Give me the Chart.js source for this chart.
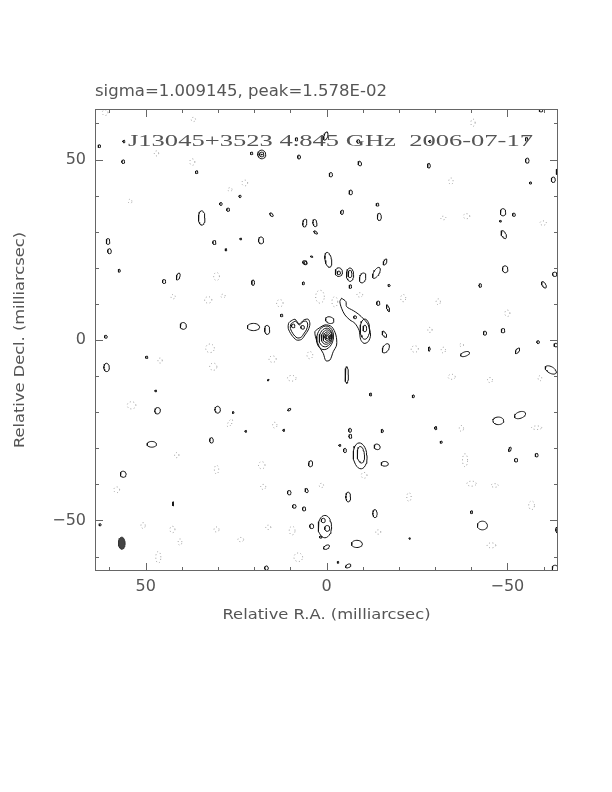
<!DOCTYPE html>
<html><head><meta charset="utf-8">
<script src="https://cdn.jsdelivr.net/npm/chart.js@4.4.1/dist/chart.umd.min.js"></script>
<style>html,body{margin:0;padding:0;background:#fff;}#wrap{position:relative;width:612px;height:792px;}</style>
</head><body><div id="wrap"><canvas id="c" width="612" height="792"></canvas></div>
<script>
// ---- texts ----
const headerText = "sigma=1.009145, peak=1.578E-02";
const mapTitle = "J13045+3523 4.845 GHz  2006-07-17";
const xAxisTitle = "Relative R.A. (milliarcsec)";
const yAxisTitle = "Relative Decl. (milliarcsec)";
// ---- axes (milliarcsec) ----
const axisRange = [-64, 64];
const tickValues = [60, 50, 40, 30, 20, 10, 0, -10, -20, -30, -40, -50, -60];
const majorTickValues = [50, 0, -50];
const majorTickLabels = ["50", "0", "\u221250"];
// ---- positive contours: [RA, Dec, semi-axis RA, semi-axis Dec, tilt deg] ----
const positiveBlobs = [
 [62.8,53.7,0.35,0.4,0],[56.2,49.4,0.4,0.5,0],[56.0,55.0,0.3,0.35,0],
 [17.9,51.4,1.1,1.2,0],[17.9,51.4,0.6,0.65,0],[17.9,51.4,0.15,0.15,0],[20.7,51.7,0.35,0.35,0],
 [8.3,55.6,0.35,0.45,0],[7.6,50.7,0.4,0.55,0],[0.2,56.5,0.5,1.2,20],[-8.8,55,0.4,0.5,0],
 [-28.6,55,0.3,0.35,0],[-55.3,55.6,0.35,0.5,0],[-59.3,63.6,0.5,0.4,0],[35.9,46.5,0.35,0.4,0],
 [-9.2,48.9,0.45,0.65,-20],[-1.2,45.8,0.45,0.6,0],[-28.3,48.3,0.4,0.65,0],[-55.5,49.7,0.5,0.7,0],
 [-62.7,44.4,0.55,0.75,0],[-63.8,46.6,0.3,0.8,0],[-56.4,43.5,0.3,0.3,0],[23.9,39.8,0.3,0.35,0],
 [29.2,37.7,0.35,0.4,0],[27.2,36.1,0.4,0.45,0],[34.5,33.8,0.9,2.0,0],[15.2,34.7,0.35,0.6,-40],
 [6.0,32.4,0.55,1.1,10],[3.2,32.4,0.55,1.0,-10],[3.0,29.8,0.3,0.6,-50],[-6.7,40.9,0.45,0.65,0],
 [-14.1,37.5,0.4,0.4,0],[-4.3,35.4,0.4,0.6,10],[-14.6,34.1,0.55,1.0,0],[-48.8,35.4,0.75,1.0,0],
 [-51.8,34.7,0.4,0.45,0],[-48.1,32.9,0.25,0.25,0],[-49.0,29.2,0.6,1.2,-25],
 [60.4,27.3,0.5,0.8,0],[60.0,24.6,0.5,0.7,0],[31.0,27.0,0.45,0.55,0],[27.8,25.0,0.25,0.3,0],
 [23.7,28.0,0.25,0.25,0],[18.1,27.6,0.7,0.95,0],[5.8,21.3,0.45,0.45,0],[57.3,19.2,0.3,0.4,0],
 [44.9,16.2,0.45,0.55,0],[41.0,17.6,0.45,1.0,20],[20.3,15.9,0.4,0.75,0],[6.4,15.7,0.3,0.4,0],
 [-49.4,19.6,0.75,0.95,0],[-63.1,18.2,0.6,0.6,0],[-42.5,15.1,0.35,0.5,0],[-60.1,15.3,0.5,1.0,-30],
 [-0.5,22.2,0.9,2.1,-10],[-3.4,18.8,1.0,1.2,0],[-3.4,18.6,0.45,0.5,0],
 [-6.5,18.1,1.0,1.85,0],[-6.5,18.3,0.55,1.0,0],[-6.6,14.8,0.35,0.5,0],
 [-10.0,17.2,0.85,1.4,15],[-13.8,18.6,0.75,1.7,30],[-16.2,21.6,0.4,0.9,25],[-17.3,15.1,0.3,0.3,0],
 [6.0,21.5,0.6,0.5,0],[4.1,23.1,0.4,0.15,20],[12.4,6.8,0.35,0.35,0],[39.6,3.9,0.85,0.95,0],
 [20.2,3.6,1.7,1.0,0],[16.4,2.8,0.7,1.25,0],[61.0,0.9,0.4,0.4,0],[60.8,-7.6,0.75,1.15,0],
 [49.7,-4.8,0.35,0.3,0],[16.1,-11.1,0.3,0.15,-45],[-14.3,10.2,0.45,0.6,0],[-17.0,8.8,0.3,1.0,-20],
 [-16.0,1.6,0.45,1.0,-30],[-16.4,-2.3,0.8,1.4,30],[-28.4,-2.5,0.25,0.6,0],[-43.8,1.9,0.45,0.55,0],
 [-48.8,2.6,0.5,0.6,0],[-52.8,-3.0,0.4,0.9,35],[-58.5,-0.6,0.35,0.4,0],[-63.4,-1.4,0.5,0.5,0],
 [-5.6,-9.7,0.45,2.3,0],[-12.2,-15.1,0.3,0.4,0],[-24.0,-15.6,0.3,0.4,0],[-30.2,-24.4,0.3,0.45,0],
 [-31.7,-28.3,0.3,0.3,0],[-15.4,-25.2,0.3,0.45,0],[47.2,-14.1,0.25,0.25,0],[46.7,-19.6,0.75,0.9,20],
 [30.1,-19.3,0.75,0.95,0],[10.3,-19.3,0.5,0.25,-40],[25.8,-20.1,0.25,0.25,0],[48.3,-28.9,1.3,0.8,0],
 [31.8,-27.8,0.5,0.75,0],[22.3,-25.3,0.25,0.25,0],[11.8,-25.0,0.25,0.3,0],[4.4,-34.3,0.55,0.85,10],
 [56.2,-37.2,0.8,0.85,0],[10.3,-42.3,0.5,0.6,0],[5.5,-41.7,0.4,0.6,-20],[8.9,-46.1,0.5,0.5,0],
 [6.2,-46.8,0.45,0.55,0],[4.1,-51.6,0.55,0.65,0],[62.6,-51.2,0.3,0.3,0],[42.4,-45.4,0.1,0.6,0],
 [16.6,-63.2,0.5,0.6,0],[1.6,-54.6,0.35,0.3,0],[0,-57.4,0.9,0.5,-30],
 [-6.5,-25.0,0.4,0.55,0],[-6.6,-26.7,0.4,0.55,0],[-3.7,-29.2,0.3,0.25,0],[-5.1,-30.6,0.4,0.6,0],
 [-14.0,-29.6,0.85,0.75,30],[-16.1,-34.3,1.0,0.65,0],[-6.0,-43.5,0.65,1.35,0],[-13.4,-48.1,0.6,1.1,0],
 [-40.1,-47.7,0.3,0.4,0],[-43.1,-51.4,1.4,1.2,0],[-8.4,-56.5,1.5,1.0,0],[-6.0,-62.6,0.8,0.45,-30],
 [-3.2,-61.6,0.25,0.25,0],[-23.0,-55.0,0.2,0.2,0],[-63.8,-52.6,0.4,0.8,0],[-63.2,-63.2,0.8,0.8,0],
 [-50.7,-30.3,0.3,0.65,20],[-52.4,-33.3,0.45,0.5,0],[-58.1,-31.9,0.4,0.5,0],
 [-47.5,-22.4,1.5,1.05,0],[-53.5,-20.8,1.6,0.9,-20],[-38.3,-3.9,1.3,0.6,-20],[-62.0,-8.3,1.7,0.9,30],
 // southern knot
 [-9.3,-32.1,1.9,3.6,-5],[-9.5,-31.8,1.0,2.3,-5],
 // southern double
 [0.45,-51.7,1.85,3.1,0],[0.9,-50.0,0.55,0.6,0],[-0.2,-52.2,0.7,0.8,0],
 // core levels
 [0.4,0.6,2.3,3.3,10],[0.2,0.7,1.8,2.6,10],[0.0,0.8,1.4,2.0,10],[-0.1,0.8,1.0,1.45,10],
 [-0.2,0.8,0.65,0.9,0],[-0.2,0.8,0.35,0.45,0],
 [-0.9,5.5,1.2,0.9,20],
 // heart lobes
 [9.2,3.9,0.5,0.5,0],[6.6,3.5,0.5,0.5,0],
 // jet knots
 [-10.6,3.0,1.3,2.8,0],[-10.6,3.2,0.5,0.9,0],[-7.9,6.3,0.4,0.4,0]
];
// ---- negative contours (dotted) ----
const negativeBlobs = [
 [47,51.7,0.6,0.7,0],[37.1,49.3,0.7,0.9,0],[22.6,43.5,0.8,0.8,0],[26.7,41.7,0.6,0.5,0],
 [54.3,38.4,0.5,0.6,0],[30.4,17.6,0.8,1.1,0],[32.7,11.1,1.0,0.9,0],[28.6,12.2,0.6,0.5,0],
 [42.4,12,0.6,0.6,0],[12.9,10.2,0.9,1.0,0],[1.8,12,1.2,1.8,0],[-2.3,10.6,0.8,1.4,0],
 [-9.2,12.5,0.8,0.6,0],[32.2,-2.3,1.2,1.2,0],[31.3,-7.4,1.0,1.0,0],[14.9,-5.3,1.0,0.9,0],
 [4.6,-4.2,0.8,1.0,0],[9.6,-10.6,1.2,0.8,0],[46,-5.7,0.6,0.7,0],[53.9,-18.1,1.2,1.0,0],
 [26.7,-23,0.5,1.2,30],[14.3,-23.6,0.6,0.8,0],[41.4,-31.9,0.6,0.7,0],[30.4,-35.9,0.6,1.2,0],
 [17.9,-34.7,0.9,1.0,0],[17.5,-40.7,0.7,0.7,0],[58,-41.5,0.8,0.8,0],[50.7,-51.4,0.6,0.8,0],
 [42.6,-52.5,0.7,0.9,0],[40.5,-56,0.5,0.9,0],[30.4,-52.5,0.7,0.7,0],[23.7,-55.3,0.8,0.6,0],
 [16.1,-51.9,0.7,0.6,0],[9.5,-52.8,0.8,1.2,0],[46.5,-60.2,0.7,1.6,0],[7.8,-60.2,1.2,1.2,0],
 [1.4,-40.3,0.6,0.6,0],[61.2,63,0.8,0.8,0],[36.8,61.1,0.6,0.6,0],[-40.5,60.2,0.6,1.0,0],
 [-34.4,44,0.6,0.9,0],[-32.3,33.8,0.7,0.5,0],[-38.7,34.3,0.9,0.7,0],[-59.9,32.4,0.9,0.6,0],
 [-21.2,11.6,0.7,1.0,0],[-30.9,10.6,0.6,0.8,0],[-50,7.4,0.7,0.9,0],[-28.6,2.8,0.6,0.7,0],
 [-24.4,-2.5,1.0,0.9,0],[-32.3,-2.8,0.6,0.8,0],[-37.3,-1.4,0.6,0.4,0],[-34.6,-10.2,1.0,0.7,0],
 [-45.2,-11.1,0.7,0.7,0],[-59,-10.6,0.5,0.7,0],[-37.3,-24.5,0.6,0.8,0],[-58.1,-24.3,1.4,0.5,0],
 [-38.3,-33.3,0.7,1.8,0],[-40.1,-39.8,1.3,0.7,0],[-46.5,-40.3,1.0,0.5,0],[-10.4,-37.5,0.8,0.8,0],
 [-22.8,-43.5,0.6,1.2,0],[-56.7,-45.8,0.8,1.2,0],[-14.3,-53.2,0.7,0.6,0],[-45.6,-56.9,1.2,0.7,0]
];
// ---- irregular contours [RA, Dec] ----
const coreOuter = [[2.57,2.96],[0.44,4.17],[-1.41,3.7],[-2.6,1.39],[-2.79,-1.39],[-1.86,-3.24],
 [-0.94,-5.56],[0.17,-5.74],[0.9,-3.7],[2.0,-1.85],[2.93,0.46],[3.2,2.31]];
const heartOuter = [[10.12,5.09],[8.73,5.74],[7.54,4.44],[6.25,5.56],[5.05,5.74],[4.59,4.44],
 [5.05,2.78],[5.97,1.39],[6.88,0.19],[8.26,0],[9.65,1.39],[10.58,3.24],[10.48,4.63]];
const heartInner = [[9.62,4.67],[8.50,5.19],[7.55,4.15],[6.52,5.05],[5.56,5.19],[5.19,4.15],
 [5.56,2.82],[6.30,1.71],[7.02,0.75],[8.13,0.6],[9.24,1.71],[9.98,3.19],[9.90,4.30]];
const jetOuter = [[-4.17,11.58],[-5.36,10.65],[-5.55,9.26],[-7.39,8.15],[-8.77,7.22],[-10.35,5.74],
 [-11.53,4.17],[-12.18,1.39],[-11.53,-0.46],[-10.35,-0.93],[-9.42,0.19],[-9.05,2.59],[-7.85,4.63],
 [-6.47,5.56],[-5.09,6.94],[-4.17,8.8],[-3.7,10.65]];
// ---- restoring beam [RA, Dec, semi-axis RA, semi-axis Dec] ----
const beam = [56.6, -56.3, 0.92, 1.67, 0];

function ellipsePoints(b) {
  const [cx, cy, rx, ry, tilt] = b;
  const a = tilt * Math.PI / 180, pts = [];
  const n = 28;
  for (let i = 0; i <= n; i++) {
    const t = 2 * Math.PI * i / n;
    const ex = rx * Math.cos(t), ey = ry * Math.sin(t);
    const dx = ex * Math.cos(a) + ey * Math.sin(a);
    const dy = -ex * Math.sin(a) + ey * Math.cos(a);
    pts.push({x: cx - dx, y: cy + dy});
  }
  return pts;
}
function polyPoints(p) {
  const pts = p.map(q => ({x: q[0], y: q[1]}));
  pts.push({x: p[0][0], y: p[0][1]});
  return pts;
}
const POS = '#111', NEG = '#999';
const datasets = [];
negativeBlobs.forEach(b => datasets.push({data: ellipsePoints(b), showLine: true, borderColor: NEG,
  borderWidth: 1, borderDash: [1, 2.5], pointRadius: 0, fill: false, tension: 0}));
positiveBlobs.forEach(b => datasets.push({data: ellipsePoints(b), showLine: true, borderColor: POS,
  borderWidth: 1, pointRadius: 0, fill: false, tension: 0}));
[coreOuter, heartOuter, heartInner, jetOuter].forEach(p => datasets.push({data: polyPoints(p),
  showLine: true, borderColor: POS, borderWidth: 1, pointRadius: 0, fill: false, tension: 0.3}));
datasets.push({data: ellipsePoints(beam), showLine: true, borderColor: '#333', borderWidth: 1,
  backgroundColor: '#444', pointRadius: 0, fill: 'shape', tension: 0});

function stretchText(ctx, text, x, y, width, font, color, align) {
  ctx.save();
  ctx.font = font; ctx.fillStyle = color; ctx.textBaseline = 'alphabetic'; ctx.textAlign = 'left';
  const w = ctx.measureText(text).width;
  const s = width / w;
  let x0 = x;
  if (align === 'center') x0 = x - width / 2;
  ctx.translate(x0, y); ctx.scale(s, 1);
  ctx.fillText(text, 0, 0);
  ctx.restore();
}

const framePlugin = {
  id: 'frame',
  afterDatasetsDraw(chart) {
    const {ctx, chartArea: ca, scales} = chart;
    const xs = scales.x, ys = scales.y;
    ctx.save();
    ctx.strokeStyle = '#666'; ctx.lineWidth = 1;
    ctx.strokeRect(ca.left + 0.5, ca.top + 0.5, ca.right - ca.left - 1, ca.bottom - ca.top - 1);
    tickValues.forEach(v => {
      const len = majorTickValues.includes(v) ? 8 : 4;
      const px = Math.round(xs.getPixelForValue(v)) + 0.5;
      const py = Math.round(ys.getPixelForValue(v)) + 0.5;
      ctx.beginPath();
      ctx.moveTo(px, ca.bottom); ctx.lineTo(px, ca.bottom - len);
      ctx.moveTo(px, ca.top); ctx.lineTo(px, ca.top + len);
      ctx.moveTo(ca.left, py); ctx.lineTo(ca.left + len, py);
      ctx.moveTo(ca.right, py); ctx.lineTo(ca.right - len, py);
      ctx.stroke();
    });
    ctx.fillStyle = '#555';
    ctx.font = '16px "DejaVu Sans"';
    majorTickValues.forEach((v, i) => {
      ctx.textAlign = 'center'; ctx.textBaseline = 'middle';
      ctx.fillText(majorTickLabels[i], xs.getPixelForValue(v), ca.bottom + 16);
      ctx.textAlign = 'right';
      ctx.fillText(majorTickLabels[i], ca.left - 9, ys.getPixelForValue(v));
    });
    ctx.restore();
    stretchText(ctx, headerText, ca.left, 96, 292, '16px "DejaVu Sans"', '#555', 'left');
    stretchText(ctx, mapTitle, 128, 146, 405, '16px "Liberation Serif"', '#555', 'left');
    stretchText(ctx, xAxisTitle, (ca.left + ca.right) / 2, 619, 208, '14px "DejaVu Sans"', '#555', 'center');
    ctx.save();
    ctx.translate(24, (ca.top + ca.bottom) / 2);
    ctx.rotate(-Math.PI / 2);
    stretchText(ctx, yAxisTitle, 0, 0, 216, '14px "DejaVu Sans"', '#555', 'center');
    ctx.restore();
  }
};

new Chart(document.getElementById('c'), {
  type: 'scatter',
  data: {datasets},
  options: {
    responsive: false, devicePixelRatio: 1, animation: false,
    layout: {padding: {left: 95, top: 109, right: 54, bottom: 221}},
    plugins: {legend: {display: false}, tooltip: {enabled: false}},
    scales: {
      x: {type: 'linear', min: axisRange[0], max: axisRange[1], reverse: true, display: false},
      y: {type: 'linear', min: axisRange[0], max: axisRange[1], display: false}
    }
  },
  plugins: [framePlugin]
});
</script></body></html>
